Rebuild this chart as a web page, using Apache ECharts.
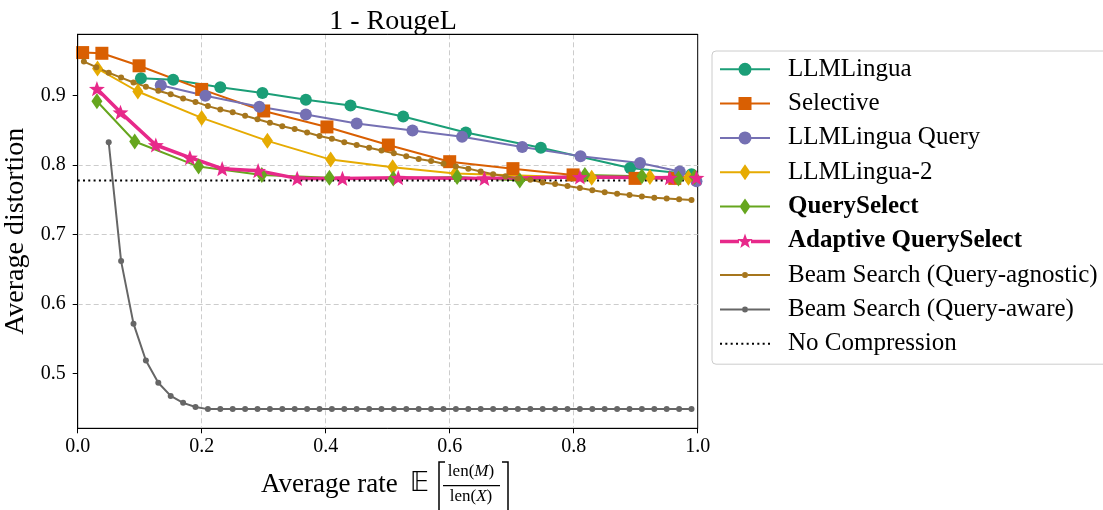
<!DOCTYPE html>
<html>
<head>
<meta charset="utf-8">
<script src="https://cdn.jsdelivr.net/npm/echarts@6.0.0/dist/echarts.min.js"></script>
<style>
  html, body { margin: 0; padding: 0; background: #fff; }
  #chart { width: 1103px; height: 510px; }
</style>
</head>
<body>
<div id="chart"></div>
<script>
// values
const llmlinguaRates = [0.102, 0.154, 0.230, 0.298, 0.368, 0.440, 0.525, 0.626, 0.747, 0.891, 0.990];
const llmlinguaDist = [0.925, 0.923, 0.912, 0.904, 0.894, 0.886, 0.870, 0.847, 0.825, 0.796, 0.787];

const selectiveRates = [0.008, 0.039, 0.099, 0.200, 0.300, 0.402, 0.501, 0.600, 0.702, 0.799, 0.899, 0.963];
const selectiveDist = [0.962, 0.961, 0.943, 0.909, 0.878, 0.855, 0.829, 0.805, 0.795, 0.786, 0.781, 0.781];

const queryRates = [0.134, 0.206, 0.293, 0.368, 0.450, 0.540, 0.620, 0.717, 0.811, 0.907, 0.971, 0.998];
const queryDist = [0.915, 0.900, 0.884, 0.873, 0.860, 0.850, 0.841, 0.826, 0.813, 0.803, 0.791, 0.777];

const lingua2Rates = [0.032, 0.097, 0.200, 0.306, 0.408, 0.508, 0.609, 0.829, 0.923, 0.985];
const lingua2Dist = [0.939, 0.906, 0.868, 0.835, 0.808, 0.797, 0.788, 0.782, 0.783, 0.782];

const querySelectRates = [0.031, 0.092, 0.195, 0.297, 0.406, 0.509, 0.612, 0.713, 0.818, 0.910, 0.969, 0.995];
const querySelectDist = [0.892, 0.834, 0.798, 0.786, 0.782, 0.781, 0.783, 0.778, 0.786, 0.784, 0.781, 0.783];

const adaptiveRates = [0.031, 0.069, 0.126, 0.181, 0.233, 0.291, 0.354, 0.427, 0.517, 0.656, 0.810, 0.955, 0.998];
const adaptiveDist = [0.910, 0.876, 0.829, 0.811, 0.795, 0.792, 0.781, 0.781, 0.782, 0.781, 0.783, 0.782, 0.782];

const beamRates = [
  0.01, 0.03, 0.05, 0.07, 0.09, 0.11, 0.13, 0.15, 0.17, 0.19,
  0.21, 0.23, 0.25, 0.27, 0.29, 0.31, 0.33, 0.35, 0.37, 0.39,
  0.41, 0.43, 0.45, 0.47, 0.49, 0.51, 0.53, 0.55, 0.57, 0.59,
  0.61, 0.63, 0.65, 0.67, 0.69, 0.71, 0.73, 0.75, 0.77, 0.79,
  0.81, 0.83, 0.85, 0.87, 0.89, 0.91, 0.93, 0.95, 0.97, 0.99
];
const beamAgnosticDist = [
  0.949, 0.941, 0.933, 0.926, 0.919, 0.913, 0.907, 0.902, 0.896, 0.891,
  0.885, 0.880, 0.876, 0.871, 0.866, 0.861, 0.856, 0.852, 0.847, 0.842,
  0.838, 0.833, 0.829, 0.825, 0.821, 0.817, 0.813, 0.809, 0.806, 0.802,
  0.798, 0.795, 0.791, 0.787, 0.784, 0.781, 0.779, 0.775, 0.773, 0.770,
  0.767, 0.764, 0.761, 0.759, 0.757, 0.755, 0.753, 0.752, 0.751, 0.750
];
// query-aware beam search starts at the third rate
const beamAwareRates = beamRates.slice(2);
const beamAwareDist = [
  0.833, 0.662, 0.572, 0.519, 0.487, 0.468, 0.458, 0.452,
  0.449, 0.449, 0.449, 0.449, 0.449, 0.449, 0.449, 0.449, 0.449, 0.449,
  0.449, 0.449, 0.449, 0.449, 0.449, 0.449, 0.449, 0.449, 0.449, 0.449,
  0.449, 0.449, 0.449, 0.449, 0.449, 0.449, 0.449, 0.449, 0.449, 0.449,
  0.449, 0.449, 0.449, 0.449, 0.449, 0.449, 0.449, 0.449, 0.449, 0.449
];

const noCompressionRates = [0, 1];
const noCompressionDist = [0.778, 0.778];

const yTicks = [0.5, 0.6, 0.7, 0.8, 0.9];

const FONT = "'Liberation Serif', 'DejaVu Serif', serif";
const BLACK = "#000000";

const pairs = (xs, ys) => xs.map((x, i) => [x, ys[i]]);

const STAR = "path://M25,0 L26.94,5.33 L32.61,5.53 L28.14,9.02 L29.70,14.47 L25,11.3 L20.30,14.47 L21.86,9.02 L17.39,5.53 L23.06,5.33 Z";

const icons = {
  circle: "path://M0,6 h19 v2 h-19 Z M31,6 h19 v2 h-19 Z M18.5,7 A6.5,6.5 0 1,1 31.5,7 A6.5,6.5 0 1,1 18.5,7 Z",
  square: "path://M0,6 h19 v2 h-19 Z M31,6 h19 v2 h-19 Z M18.5,0.5 h13 v13 h-13 Z",
  diamond: "path://M0,7 h20 v2 h-20 Z M30,7 h20 v2 h-20 Z M25,0 L30.5,8 L25,16 L19.5,8 Z",
  star: "path://M0,6.25 h19 v3.5 h-19 Z M31,6.25 h19 v3.5 h-19 Z M25,0 L26.94,5.33 L32.61,5.53 L28.14,9.02 L29.70,14.47 L25,11.3 L20.30,14.47 L21.86,9.02 L17.39,5.53 L23.06,5.33 Z",
  dot: "path://M0,6 h22 v2 h-22 Z M28,6 h22 v2 h-22 Z M22,7 A3,3 0 1,1 28,7 A3,3 0 1,1 22,7 Z",
  dotted: "path://M0,0 h2 v2 h-2 Z M5.3,0 h2 v2 h-2 Z M10.6,0 h2 v2 h-2 Z M15.9,0 h2 v2 h-2 Z M21.2,0 h2 v2 h-2 Z M26.5,0 h2 v2 h-2 Z M31.8,0 h2 v2 h-2 Z M37.1,0 h2 v2 h-2 Z M42.4,0 h2 v2 h-2 Z M47.7,0 h2 v2 h-2 Z"
};

const makeLine = (name, xs, ys, color, symbol, size, width) => ({
  name,
  type: "line",
  data: pairs(xs, ys),
  color,
  symbol,
  symbolSize: size,
  symbolKeepAspect: true,
  showSymbol: true,
  lineStyle: { color, width },
  itemStyle: { color },
  emphasis: { disabled: true },
  animation: false
});

const series = [
  makeLine("LLMLingua", llmlinguaRates, llmlinguaDist, "#1b9e77", "circle", 12, 2),
  makeLine("Selective", selectiveRates, selectiveDist, "#d95f02", "rect", 13, 2),
  makeLine("LLMLingua Query", queryRates, queryDist, "#7570b3", "circle", 12, 2),
  makeLine("LLMLingua-2", lingua2Rates, lingua2Dist, "#e6ab02", "diamond", [11, 16], 2),
  makeLine("QuerySelect", querySelectRates, querySelectDist, "#66a61e", "diamond", [11, 16], 2),
  makeLine("Adaptive QuerySelect", adaptiveRates, adaptiveDist, "#e7298a", STAR, 16, 3.5),
  makeLine("Beam Search (Query-agnostic)", beamRates, beamAgnosticDist, "#a6761d", "circle", 6, 2),
  makeLine("Beam Search (Query-aware)", beamAwareRates, beamAwareDist, "#666666", "circle", 6, 2),
  {
    name: "No Compression",
    type: "line",
    data: pairs(noCompressionRates, noCompressionDist),
    color: BLACK,
    symbol: "none",
    lineStyle: { color: BLACK, width: 2, type: [2, 3.3] },
    emphasis: { disabled: true },
    animation: false
  }
];

const legendIcons = ["circle", "square", "circle", "diamond", "diamond", "star", "dot", "dot", "dotted"];
const boldNames = ["QuerySelect", "Adaptive QuerySelect"];

// plain axes on top and right, only to close the frame over the grid lines
const frameAxis = {
  show: true,
  z: 10,
  axisLine: { show: true, lineStyle: { color: BLACK, width: 1 } },
  axisTick: { show: false },
  axisLabel: { show: false },
  splitLine: { show: false }
};

const gridLine = { show: true, showMinLine: false, showMaxLine: false, lineStyle: { color: "#cccccc", type: [5, 3], width: 1 } };

const chart = echarts.init(document.getElementById("chart"), null, { renderer: "canvas" });

chart.setOption({
  backgroundColor: "#ffffff",
  animation: false,
  title: {
    text: "1 - RougeL",
    left: 388,
    top: 3,
    textAlign: "center",
    textStyle: { fontFamily: FONT, fontSize: 28, fontWeight: "normal", color: BLACK }
  },
  grid: {
    left: 77.7,
    right: 405.3,
    top: 34.3,
    bottom: 81.7,
    show: true,
    borderColor: BLACK,
    borderWidth: 1,
    backgroundColor: "#ffffff",
    outerBoundsMode: "none"
  },
  legend: {
    orient: "vertical",
    left: 712,
    top: 51,
    padding: [5.8, 12, 8, 8],
    itemWidth: 50,
    itemHeight: 16,
    itemGap: 9.3,
    align: "left",
    backgroundColor: "rgba(255,255,255,0.8)",
    borderColor: "#cccccc",
    borderWidth: 1,
    borderRadius: 4,
    selectedMode: false,
    data: series.map((s, i) => ({ name: s.name, icon: icons[legendIcons[i]] })),
    formatter: (name) => (boldNames.includes(name) ? "{b|" + name + "}" : name),
    textStyle: {
      fontFamily: FONT,
      fontSize: 25,
      color: BLACK,
      padding: [0, 0, 0, 13],
      rich: {
        b: { fontFamily: FONT, fontSize: 25, fontWeight: "bold", color: BLACK }
      }
    }
  },
  xAxis: [
    {
      type: "value",
      min: 0,
      max: 1,
      interval: 0.2,
      axisLine: { show: true, onZero: false, lineStyle: { color: BLACK, width: 1 } },
      axisTick: { show: true, length: 5, lineStyle: { color: BLACK } },
      axisLabel: {
        margin: 8,
        fontFamily: FONT,
        fontSize: 20,
        color: BLACK,
        formatter: (v) => v.toFixed(1)
      },
      splitLine: gridLine
    },
    Object.assign({ type: "value", position: "top", min: 0, max: 1 }, frameAxis)
  ],
  yAxis: [
    {
      type: "value",
      min: 0.4214,
      max: 0.9883,
      name: "Average distortion",
      nameLocation: "middle",
      nameGap: 46,
      nameTextStyle: { fontFamily: FONT, fontSize: 28, color: BLACK },
      axisLine: { show: true, onZero: false, lineStyle: { color: BLACK, width: 1 } },
      axisTick: { show: true, length: 5, customValues: yTicks, lineStyle: { color: BLACK } },
      axisLabel: {
        margin: 12,
        fontFamily: FONT,
        fontSize: 20,
        color: BLACK,
        customValues: yTicks,
        formatter: (v) => v.toFixed(1)
      },
      splitLine: gridLine
    },
    Object.assign({ type: "value", position: "right", min: 0.4214, max: 0.9883 }, frameAxis)
  ],
  graphic: [
    {
      type: "text",
      left: 261,
      top: 471,
      style: { text: "Average rate", font: "27px " + FONT, fill: BLACK }
    },
    {
      type: "text",
      left: 410,
      top: 471,
      style: { text: "\u{1D53C}", font: "26px 'DejaVu Sans', " + FONT, fill: BLACK }
    },
    {
      type: "polyline",
      shape: { points: [[445, 462], [439, 462], [439, 512], [445, 512]] },
      style: { stroke: BLACK, lineWidth: 1.5, fill: null }
    },
    {
      type: "text",
      x: 471,
      y: 472,
      style: {
        text: "len({i|M})",
        font: "17px " + FONT,
        fill: BLACK,
        align: "center",
        verticalAlign: "middle",
        rich: { i: { fontFamily: FONT, fontSize: 17, fontStyle: "italic" } }
      }
    },
    {
      type: "line",
      shape: { x1: 443, y1: 485.7, x2: 500, y2: 485.7 },
      style: { stroke: BLACK, lineWidth: 1.3 }
    },
    {
      type: "text",
      x: 471,
      y: 497,
      style: {
        text: "len({i|X})",
        font: "17px " + FONT,
        fill: BLACK,
        align: "center",
        verticalAlign: "middle",
        rich: { i: { fontFamily: FONT, fontSize: 17, fontStyle: "italic" } }
      }
    },
    {
      type: "polyline",
      shape: { points: [[502, 462], [508, 462], [508, 512], [502, 512]] },
      style: { stroke: BLACK, lineWidth: 1.5, fill: null }
    }
  ],
  series
});

window.addEventListener("resize", () => chart.resize());
</script>
</body>
</html>
